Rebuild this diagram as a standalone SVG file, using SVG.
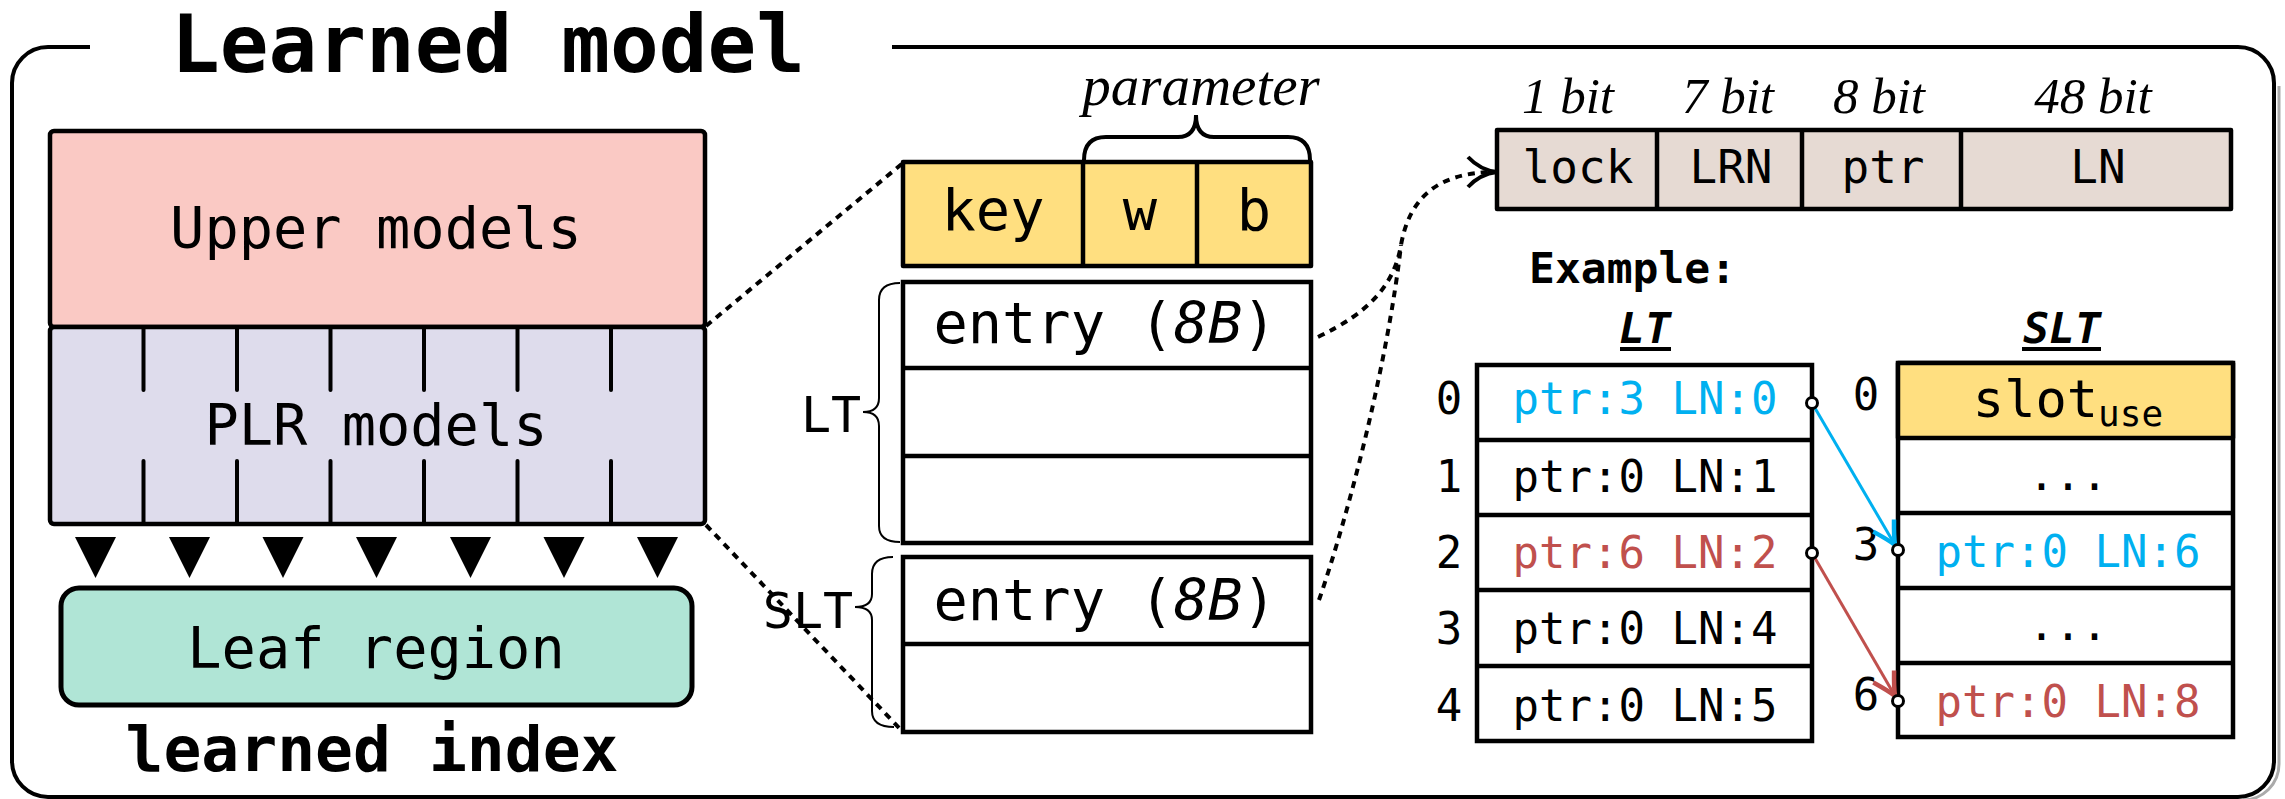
<svg xmlns="http://www.w3.org/2000/svg" width="2285" height="799" viewBox="0 0 2285 799">
<defs>
<style>
.mono{font-family:"DejaVu Sans Mono","Liberation Mono",monospace;}
.serif{font-family:"Liberation Serif","Times New Roman",serif;font-style:italic;}
.box{stroke:#000;stroke-width:4.5;stroke-linejoin:round;}
.cell{fill:#fff;stroke:#000;stroke-width:4.5;}
.dot{fill:none;stroke:#000;stroke-width:4;stroke-dasharray:7 6;}
.tick{stroke:#000;stroke-width:4;stroke-linecap:round;}
.brace{fill:none;stroke:#000;stroke-width:2;}
.big{font-size:57px;text-anchor:middle;}
.tbl{font-size:44px;text-anchor:middle;}
.blue{fill:#00B0F0;}
.red{fill:#C0504D;}
.pin{fill:#fff;stroke:#000;stroke-width:3;}
</style>
<marker id="ab" markerUnits="userSpaceOnUse" markerWidth="30" markerHeight="30" viewBox="-16 -10 20 20" refX="0" refY="0" orient="auto">
<path d="M-15,-8 Q-5,-2 0,0 Q-5,2 -15,8" fill="none" stroke="#00B0F0" stroke-width="3"/>
</marker>
<marker id="ar" markerUnits="userSpaceOnUse" markerWidth="30" markerHeight="30" viewBox="-16 -10 20 20" refX="0" refY="0" orient="auto">
<path d="M-15,-8 Q-5,-2 0,0 Q-5,2 -15,8" fill="none" stroke="#C0504D" stroke-width="3"/>
</marker>
</defs>
<rect width="2285" height="799" fill="#fff"/>

<g id="frame">
<path d="M 2279,86 V 764 A 36 36 0 0 1 2243,800" fill="none" stroke="#aaa" stroke-width="3"/>
<path d="M 90,47 H 48 A 36 36 0 0 0 12,83 V 761 A 36 36 0 0 0 48,797 H 2238 A 36 36 0 0 0 2274,761 V 83 A 36 36 0 0 0 2238,47 H 892" fill="none" stroke="#000" stroke-width="4"/>
<text x="488" y="72" class="mono" font-size="81" font-weight="bold" text-anchor="middle">Learned model</text>
</g>

<g id="upper-models">
<rect x="50" y="131" width="655" height="196" rx="4" fill="#FAC9C4" class="box"/>
<text x="376" y="248" class="mono big">Upper models</text>
</g>

<g id="plr-models">
<rect x="50" y="327" width="655" height="197" rx="4" fill="#DEDCEC" class="box"/>
<g class="tick">
<line x1="143.5" y1="329" x2="143.5" y2="390"/><line x1="237" y1="329" x2="237" y2="390"/>
<line x1="330.5" y1="329" x2="330.5" y2="390"/><line x1="424" y1="329" x2="424" y2="390"/>
<line x1="517.5" y1="329" x2="517.5" y2="390"/><line x1="611" y1="329" x2="611" y2="390"/>
<line x1="143.5" y1="461" x2="143.5" y2="522"/><line x1="237" y1="461" x2="237" y2="522"/>
<line x1="330.5" y1="461" x2="330.5" y2="522"/><line x1="424" y1="461" x2="424" y2="522"/>
<line x1="517.5" y1="461" x2="517.5" y2="522"/><line x1="611" y1="461" x2="611" y2="522"/>
</g>
<text x="376" y="445" class="mono big">PLR models</text>
</g>

<g id="leaf-arrows" fill="#000">
<polygon points="75,537 116,537 95.5,578"/>
<polygon points="169,537 210,537 189.5,578"/>
<polygon points="262.5,537 303.5,537 283,578"/>
<polygon points="356,537 397,537 376.5,578"/>
<polygon points="450,537 491,537 470.5,578"/>
<polygon points="543.5,537 584.5,537 564,578"/>
<polygon points="637,537 678,537 657.5,578"/>
</g>

<g id="leaf-region">
<rect x="61" y="588" width="631" height="117" rx="18" fill="#B0E5D6" stroke="#000" stroke-width="5"/>
<text x="376" y="668" class="mono big">Leaf region</text>
</g>
<text id="learned-index" x="372" y="771" class="mono" font-size="63" text-anchor="middle" font-weight="bold">learned index</text>

<g id="param-entry">
<rect x="903" y="162" width="408" height="104" fill="#FFDF80" class="box"/>
<line x1="1083" y1="162" x2="1083" y2="266" stroke="#000" stroke-width="4.5"/>
<line x1="1197" y1="162" x2="1197" y2="266" stroke="#000" stroke-width="4.5"/>
<text x="993" y="230" class="mono big">key</text>
<text x="1140" y="230" class="mono big">w</text>
<text x="1254" y="230" class="mono big">b</text>
<path d="M1084,160 Q1084,137 1106,137 H1178 Q1196,137 1196,115 Q1196,137 1214,137 H1288 Q1310,137 1310,160" fill="none" stroke="#000" stroke-width="4"/>
<text x="1201" y="105" class="serif" font-size="57" text-anchor="middle">parameter</text>
</g>

<g id="lt-table">
<rect x="903" y="282" width="408" height="261" class="cell"/>
<line x1="903" y1="368" x2="1311" y2="368" stroke="#000" stroke-width="4.5"/>
<line x1="903" y1="456" x2="1311" y2="456" stroke="#000" stroke-width="4.5"/>
<text x="1105" y="343" class="mono big" font-size="58">entry (<tspan font-style="italic">8B</tspan>)</text>
<path class="brace" d="M900,283 Q879,283 879,300 V398 Q879,412 863,412 Q879,412 879,426 V526 Q879,542 900,542"/>
<text x="831" y="432" class="mono" font-size="50" text-anchor="middle">LT</text>
</g>

<g id="slt-table">
<rect x="903" y="557" width="408" height="175" class="cell"/>
<line x1="903" y1="644" x2="1311" y2="644" stroke="#000" stroke-width="4.5"/>
<text x="1105" y="620" class="mono big" font-size="58">entry (<tspan font-style="italic">8B</tspan>)</text>
<path class="brace" d="M893,557 Q872,557 872,574 V594 Q872,607 855,607 Q872,607 872,620 V711 Q872,727 894,727"/>
<text x="808" y="628" class="mono" font-size="50" text-anchor="middle">SLT</text>
</g>

<g id="bitfield">
<text class="serif" font-size="51" text-anchor="middle" y="113"><tspan x="1568">1 bit</tspan><tspan x="1728">7 bit</tspan><tspan x="1879">8 bit</tspan><tspan x="2093">48 bit</tspan></text>
<rect x="1497" y="130" width="734" height="79" fill="#E6DAD3" class="box"/>
<line x1="1657" y1="130" x2="1657" y2="209" stroke="#000" stroke-width="4.5"/>
<line x1="1802" y1="130" x2="1802" y2="209" stroke="#000" stroke-width="4.5"/>
<line x1="1961" y1="130" x2="1961" y2="209" stroke="#000" stroke-width="4.5"/>
<g class="mono" font-size="46" text-anchor="middle">
<text x="1578" y="183">lock</text><text x="1731" y="183">LRN</text><text x="1883" y="183">ptr</text><text x="2098" y="183">LN</text>
</g>
</g>

<text id="example" x="1529" y="283" class="mono" font-size="43" font-weight="bold">Example:</text>

<g id="example-lt">
<text x="1645" y="343" class="mono" font-size="43" font-weight="bold" font-style="italic" text-anchor="middle">LT</text>
<line x1="1620" y1="349" x2="1671" y2="349" stroke="#000" stroke-width="4"/>
<rect x="1477" y="365" width="335" height="376" class="cell"/>
<g stroke="#000" stroke-width="4.5">
<line x1="1477" y1="440" x2="1812" y2="440"/><line x1="1477" y1="515" x2="1812" y2="515"/>
<line x1="1477" y1="590" x2="1812" y2="590"/><line x1="1477" y1="666" x2="1812" y2="666"/>
</g>
<g class="mono tbl">
<text x="1449" y="414">0</text><text x="1449" y="492">1</text><text x="1449" y="568">2</text><text x="1449" y="644">3</text><text x="1449" y="721">4</text>
<text x="1645" y="414" class="blue">ptr:3 LN:0</text>
<text x="1645" y="492">ptr:0 LN:1</text>
<text x="1645" y="568" class="red">ptr:6 LN:2</text>
<text x="1645" y="644">ptr:0 LN:4</text>
<text x="1645" y="721">ptr:0 LN:5</text>
</g>
</g>

<g id="example-slt">
<text x="2062" y="343" class="mono" font-size="43" font-weight="bold" font-style="italic" text-anchor="middle">SLT</text>
<line x1="2022" y1="349" x2="2101" y2="349" stroke="#000" stroke-width="4"/>
<rect x="1898" y="363" width="335" height="374" class="cell"/>
<rect x="1898" y="363" width="335" height="75" fill="#FFDF80" class="box"/>
<g stroke="#000" stroke-width="4.5">
<line x1="1898" y1="513" x2="2233" y2="513"/><line x1="1898" y1="588" x2="2233" y2="588"/><line x1="1898" y1="663" x2="2233" y2="663"/>
</g>
<g class="mono tbl">
<text x="1866" y="410">0</text><text x="1866" y="560">3</text><text x="1866" y="710">6</text>
<text x="2068" y="417" font-size="52">slot<tspan font-size="36" dy="9">use</tspan></text>
<text x="2068" y="490">...</text>
<text x="2068" y="567" class="blue">ptr:0 LN:6</text>
<text x="2068" y="640">...</text>
<text x="2068" y="717" class="red">ptr:0 LN:8</text>
</g>
</g>

<g id="connectors">
<line class="dot" x1="706" y1="326" x2="903" y2="163"/>
<line class="dot" x1="706" y1="525" x2="903" y2="732"/>
<path class="dot" d="M1318,337 C1370,312 1394,285 1401,245 C1410,195 1440,174 1490,172"/>
<path class="dot" d="M1319,600 C1350,510 1388,360 1401,245"/>
<path d="M1468,157 Q1480,170 1497,172 Q1480,174 1468,187" fill="none" stroke="#000" stroke-width="4"/>
<line x1="1812" y1="403" x2="1895" y2="545" stroke="#00B0F0" stroke-width="3" marker-end="url(#ab)"/>
<line x1="1812" y1="553" x2="1895" y2="696" stroke="#C0504D" stroke-width="3" marker-end="url(#ar)"/>
<circle cx="1812" cy="403" r="5.5" class="pin"/>
<circle cx="1812" cy="553" r="5.5" class="pin"/>
<circle cx="1898" cy="550" r="5.5" class="pin"/>
<circle cx="1898" cy="701" r="5.5" class="pin"/>
</g>
</svg>
